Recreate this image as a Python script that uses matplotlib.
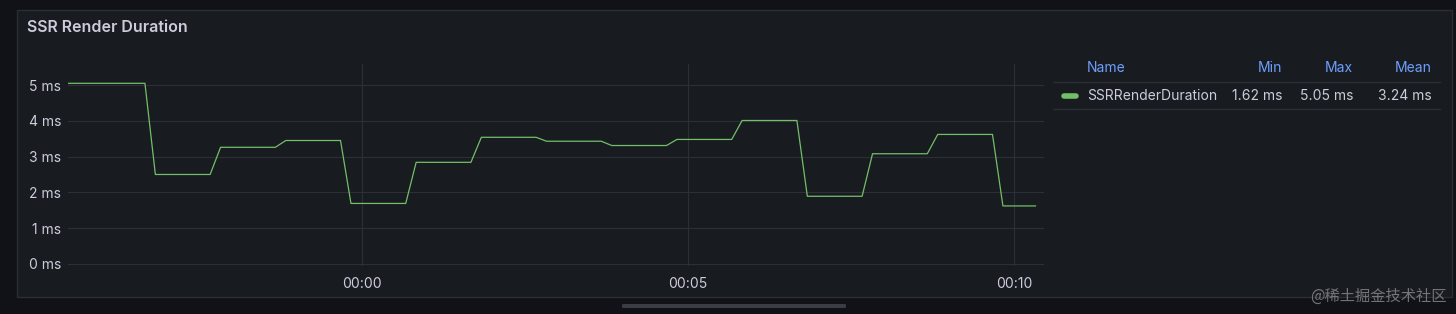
import numpy as np
import matplotlib.pyplot as plt
from matplotlib.patches import Rectangle, FancyBboxPatch
from matplotlib.ticker import FuncFormatter

# series vertices: time in minutes relative to 00:00, value in ms
times = [-4.50, -3.33, -3.17, -2.33, -2.17, -1.33, -1.17, -0.33, -0.17, 0.67,
         0.83, 1.67, 1.83, 2.67, 2.83, 3.67, 3.83, 4.67, 4.83, 5.67,
         5.83, 6.67, 6.83, 7.67, 7.83, 8.67, 8.83, 9.67, 9.83, 10.33]
values = [5.05, 5.05, 2.50, 2.50, 3.26, 3.26, 3.45, 3.45, 1.69, 1.69,
          2.84, 2.84, 3.54, 3.54, 3.43, 3.43, 3.31, 3.31, 3.48, 3.48,
          4.01, 4.01, 1.89, 1.89, 3.08, 3.08, 3.62, 3.62, 1.62, 1.62]
y_ticks = [0, 1, 2, 3, 4, 5]
x_ticks = [0, 5, 10]
x_labels = ['00:00', '00:05', '00:10']
series_name = 'SSRRenderDuration'
stat_names = ['Min', 'Max', 'Mean']
stat_values = ['1.62 ms', '5.05 ms', '3.24 ms']

W, H = 1456, 314
bg = '#111217'
panel = '#181b1f'
border = '#2b2e34'
text_c = '#ccccdc'
grid_c = '#2c2f35'
green = '#73bf69'
blue = '#6e9fff'

plt.rcParams['font.family'] = ['Inter', 'DejaVu Sans']


def fx(x):
    return x / W


def fy(y):
    return 1 - y / H


fig = plt.figure(figsize=(W / 100, H / 100), dpi=100, facecolor=bg)

# panel box
fig.patches.append(Rectangle((fx(17), fy(297)), fx(1452 - 17), (297 - 10) / H,
                             transform=fig.transFigure, facecolor=panel,
                             edgecolor=border, linewidth=1, zorder=-5))
fig.text(fx(27), fy(28), 'SSR Render Duration', color=text_c, fontsize=11.5,
         fontweight='semibold', va='center', ha='left')

# plot area
ax = fig.add_axes([fx(68), fy(266), fx(1044 - 68), (266 - 64) / H])
ax.set_zorder(2)
ax.patch.set_alpha(0)
ax.plot(times, values, color=green, linewidth=0.9)
ax.set_xlim(-4.51, 10.46)
ax.set_ylim(-0.06, 5.59)
ax.set_yticks(y_ticks)
ax.yaxis.set_major_formatter(FuncFormatter(lambda v, p: f'{v:g} ms'))
ax.set_xticks(x_ticks)
ax.set_xticklabels(x_labels)
ax.grid(True, color=grid_c, linewidth=0.8)
for s in ax.spines.values():
    s.set_visible(False)
ax.tick_params(length=0, colors=text_c, labelsize=10)
ax.tick_params(axis='y', pad=5)
ax.tick_params(axis='x', pad=8)

# legend table
fs = 10
col_right = [1282, 1353, 1432]
fig.text(fx(1087), fy(68), 'Name', color=blue, fontsize=fs, va='center', ha='left')
for name, xr in zip(stat_names, col_right):
    fig.text(fx(xr), fy(68), name, color=blue, fontsize=fs, va='center', ha='right')
fig.add_artist(plt.Line2D([fx(1053), fx(1440)], [fy(82), fy(82)], color=border, linewidth=1))
fig.add_artist(plt.Line2D([fx(1064), fx(1076)], [fy(96), fy(96)], color=green,
                          linewidth=4, solid_capstyle='round'))
fig.text(fx(1087), fy(96), series_name, color=text_c, fontsize=fs, va='center', ha='left')
for val, xr in zip(stat_values, col_right):
    fig.text(fx(xr), fy(96), val, color=text_c, fontsize=fs, va='center', ha='right')
fig.add_artist(plt.Line2D([fx(1053), fx(1440)], [fy(109), fy(109)], color=border, linewidth=1))

# scrollbar and watermark
fig.patches.append(FancyBboxPatch((fx(622), fy(308)), fx(846 - 622), 4 / H,
                                  boxstyle='round,pad=0,rounding_size=0.002',
                                  transform=fig.transFigure, facecolor='#3a3d43',
                                  edgecolor='none', zorder=1))
fig.text(fx(1447), fy(296), '@稀土掘金技术社区', color='#9a9ba0', alpha=0.7, fontsize=11,
         va='center', ha='right', family=['Noto Sans CJK SC', 'DejaVu Sans'])

fig.savefig('out.png', dpi=100, facecolor=bg)
